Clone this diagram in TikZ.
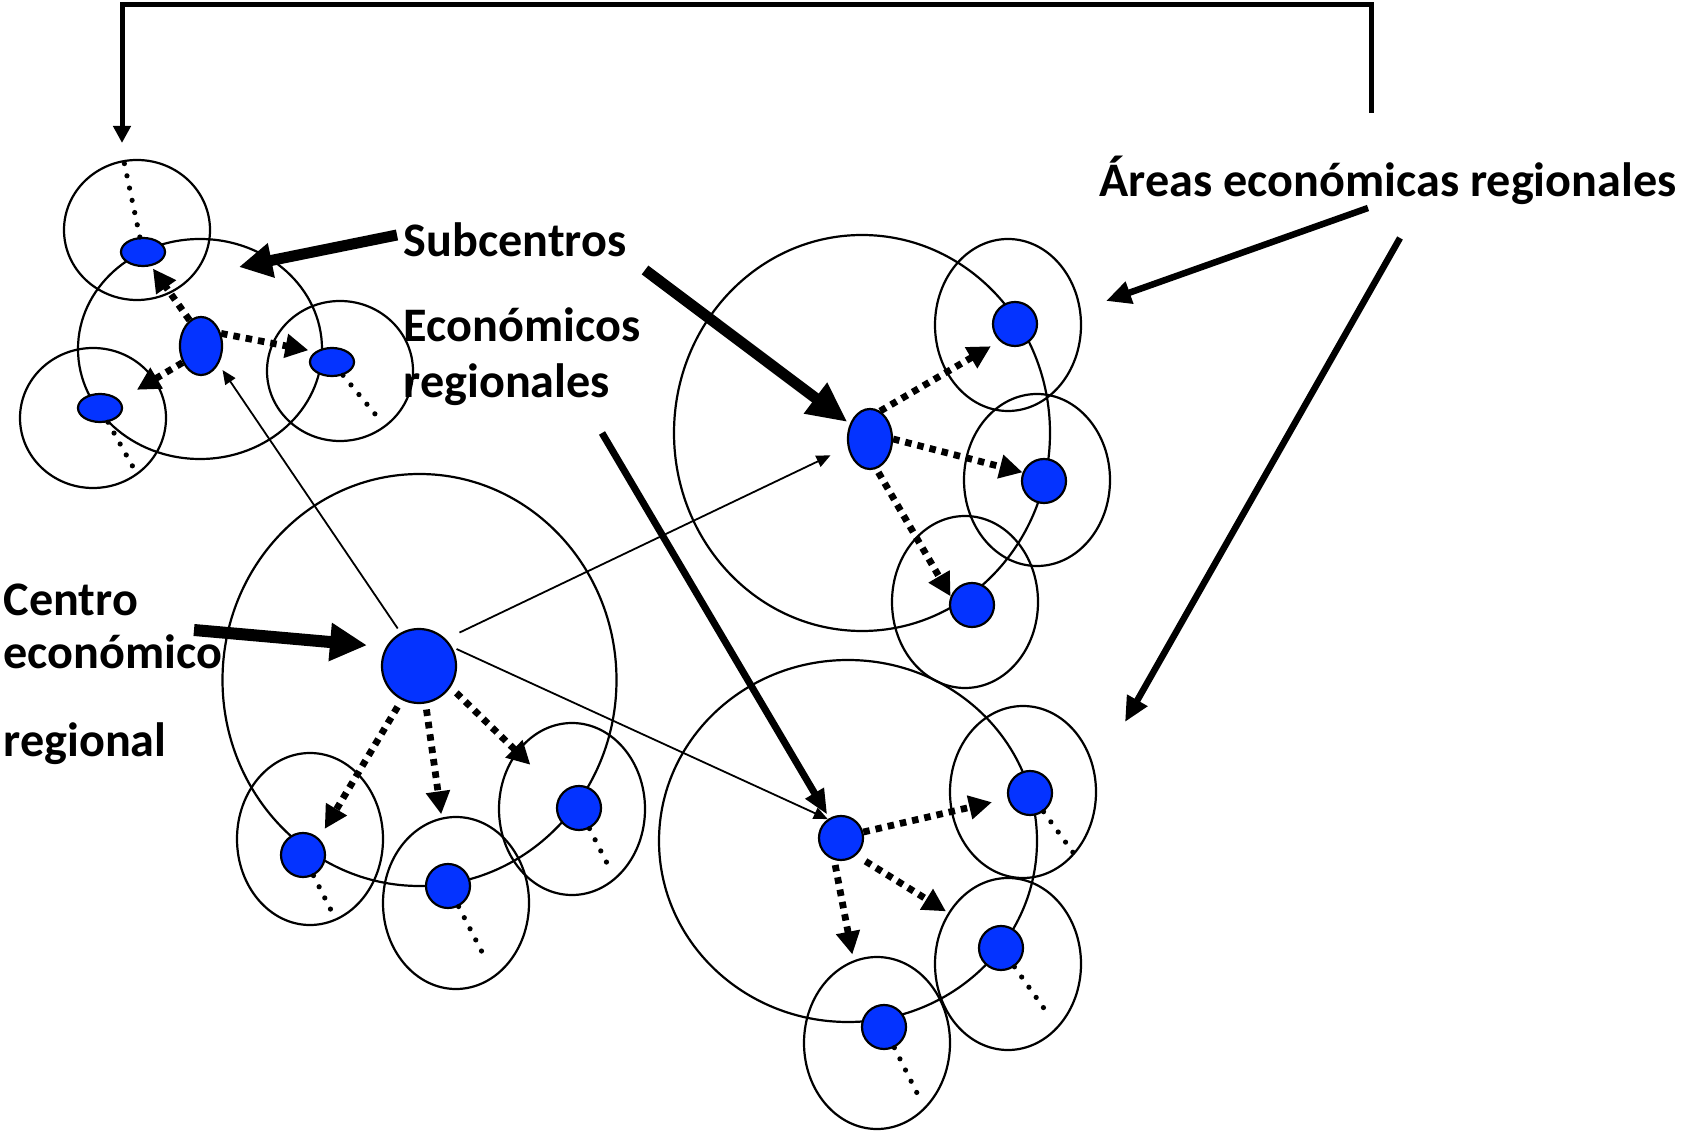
\documentclass[tikz,border=0pt]{standalone}
\usepackage{fontspec}
\setmainfont{Carlito}
\usetikzlibrary{arrows.meta,shapes.geometric}
\definecolor{nodeblue}{RGB}{4,51,255}

\begin{document}
\begin{tikzpicture}[x=0.01cm,y=-0.01cm,
  zone/.style={draw=black,line width=0.022cm},
  hub/.style={draw=black,line width=0.022cm,fill=nodeblue,inner sep=0pt},
  sub/.style={hub,circle,minimum size=0.44cm},
  flat/.style={hub,ellipse,minimum width=0.44cm,minimum height=0.28cm},
  flow/.style={line width=0.068cm,dash pattern=on 0.065cm off 0.06cm,
    -{Triangle[length=0.23cm,width=0.23cm]}},
  trail/.style={line width=0.052cm,line cap=round,dash pattern=on 0pt off 0.125cm},
  link/.style={line width=0.018cm,-{Triangle[length=0.14cm,width=0.12cm]}},
  caption/.style={font=\fontsize{13.7pt}{16pt}\selectfont\bfseries,
    inner sep=0pt,anchor=base west},
]
\useasboundingbox (0,0) rectangle (1685,1134);

% ---- area boundaries ----
% upper-left region
\draw[zone] (200,349) ellipse [x radius=122, y radius=110];
\draw[zone] (137,230) ellipse [x radius=73, y radius=70];
\draw[zone] (340,371) ellipse [x radius=73, y radius=70];
\draw[zone] (93,418) ellipse [x radius=73, y radius=70];
% main region
\draw[zone] (419.5,680) ellipse [x radius=197, y radius=206];
\draw[zone] (310,839) ellipse [x radius=73, y radius=86];
\draw[zone] (456,903) ellipse [x radius=73, y radius=86];
\draw[zone] (572,809) ellipse [x radius=73, y radius=86];
% upper-right region
\draw[zone] (862,433) ellipse [x radius=188, y radius=198];
\draw[zone] (1008,325) ellipse [x radius=73, y radius=86];
\draw[zone] (1037,480) ellipse [x radius=73, y radius=86];
\draw[zone] (965,602) ellipse [x radius=73, y radius=86];
% lower-right region
\draw[zone] (848,841) ellipse [x radius=189, y radius=181];
\draw[zone] (1023,792) ellipse [x radius=73, y radius=86];
\draw[zone] (1008,964) ellipse [x radius=73, y radius=86];
\draw[zone] (877,1043) ellipse [x radius=73, y radius=86];

% ---- centres ----
\node[hub,ellipse,minimum width=0.42cm,minimum height=0.58cm] (tlC) at (201,346) {};
\node[flat] (tlA) at (143,252) {};
\node[flat] (tlB) at (332,362) {};
\node[flat] (tlD) at (100,408) {};

\node[hub,circle,minimum size=0.74cm] (mC) at (419,666) {};
\node[sub] (mA) at (303,855) {};
\node[sub] (mB) at (448,886) {};
\node[sub] (mD) at (579,808) {};

\node[hub,ellipse,minimum width=0.44cm,minimum height=0.60cm] (uC) at (870,439) {};
\node[sub] (uA) at (1015,324) {};
\node[sub] (uB) at (1044,481) {};
\node[sub] (uD) at (972,605) {};

\node[sub] (lC) at (841,838) {};
\node[sub] (lA) at (1030,793) {};
\node[sub] (lB) at (1001,948) {};
\node[sub] (lD) at (884,1027) {};

% ---- texts ----
\node[caption] (subc) at (403,257) {Subcentros};
\node[caption] (econ) at (403,342) {Económicos};
\node[caption] (regs) at (403,398) {regionales};
\node[caption] (areas) at (1099,197) {Áreas económicas regionales};
\node[caption] (cen1) at (3,616) {Centro};
\node[caption] (cen2) at (3,669) {económico};
\node[caption] (cen3) at (3,756) {regional};

% ---- free ends ----
\coordinate (tA) at (123,157);
\coordinate (tB) at (380,420);
\coordinate (tD) at (133,467);
\coordinate (mAe) at (336,920);
\coordinate (mBe) at (482,952);
\coordinate (mDe) at (612,873);
\coordinate (lAe) at (1077,858);
\coordinate (lBe) at (1048,1014);
\coordinate (lDe) at (917,1093);
\coordinate (subS) at (397,235);
\coordinate (subT) at (239,267);
\coordinate (subS2) at (645,270);
\coordinate (econS) at (602,433);
\coordinate (cenS) at (194,630);
\coordinate (arS1) at (1368,208);
\coordinate (arT1) at (1106,301);
\coordinate (arS2) at (1400,238);
\coordinate (arT2) at (1125,722);
\coordinate (brS) at (1371,113);
\coordinate (brR) at (1371,4.5);
\coordinate (brL) at (122,4.5);
\coordinate (brT) at (122,143);

% ---- outward trails ----
\draw[trail] (tlA) -- (tA);
\draw[trail] (tlB) -- (tB);
\draw[trail] (tlD) -- (tD);
\draw[trail] (mA) -- (mAe);
\draw[trail] (mB) -- (mBe);
\draw[trail] (mD) -- (mDe);
\draw[trail] (lA) -- (lAe);
\draw[trail] (lB) -- (lBe);
\draw[trail] (lD) -- (lDe);

% ---- flows to subcentres ----
\draw[flow,shorten >=0.03cm] (tlC.114) -- (tlA.-60);
\draw[flow,shorten >=0.07cm] (tlC.32) -- (tlB.148);
\draw[flow,shorten >=0.2cm] (tlC.222) -- (tlD.22);

\draw[flow,shorten <=0.08cm,shorten >=0.11cm] (mC.-117) -- (mA.46);
\draw[flow,shorten <=0.06cm,shorten >=0.49cm] (mC.-80) -- (mB.north);
\draw[flow,shorten <=0.08cm,shorten >=0.42cm] (mC.-34) -- (mD.143);

\draw[flow,shorten >=0.1cm] (uC.70) -- (uA.-132);
\draw[flow] (uC.east) -- (uB.158);
\draw[flow,shorten <=0.04cm] (uC.-78) -- (uD.158);

\draw[flow,shorten >=0.16cm] (lC.15) -- (lA.194);
\draw[flow,shorten <=0.11cm,shorten >=0.43cm] (lC.-49) -- (lB.143);
\draw[flow,shorten <=0.05cm,shorten >=0.62cm] (lC.-107) -- (lD.150);

% ---- links between regional centres ----
\draw[link,shorten <=0.05cm,shorten >=0.07cm] (mC.119) -- (tlC.-46);
\draw[link,shorten <=0.15cm,shorten >=0.19cm] (mC.45) -- (uC.200);
\draw[link,shorten <=0.05cm] (mC.30) -- (lC.125);

% ---- label pointers ----
\draw[line width=0.11cm,-{Triangle[length=0.33cm,width=0.33cm]}] (subS) -- (subT);
\draw[line width=0.11cm,-{Triangle[length=0.40cm,width=0.36cm]},shorten >=0.03cm] (subS2) -- (uC);
\draw[line width=0.07cm,-{Triangle[length=0.25cm,width=0.20cm]},shorten >=0.04cm] (econS) -- (lC);
\draw[line width=0.12cm,-{Triangle[length=0.37cm,width=0.36cm]},shorten >=0.19cm] (cenS) -- (mC.150);
\draw[line width=0.065cm,-{Triangle[length=0.25cm,width=0.22cm]}] (arS1) -- (arT1);
\draw[line width=0.065cm,-{Triangle[length=0.25cm,width=0.22cm]}] (arS2) -- (arT2);
\draw[line width=0.05cm,-{Triangle[length=0.17cm,width=0.17cm]}] (brS) -- (brR) -- (brL) -- (brT);
\end{tikzpicture}
\end{document}
